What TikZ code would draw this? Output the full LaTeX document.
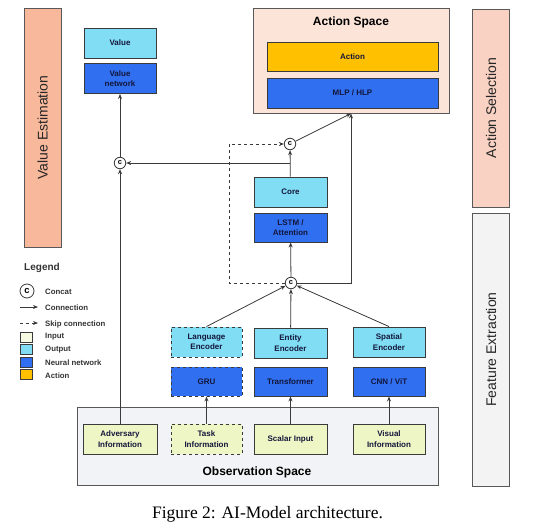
\documentclass[tikz,border=0pt]{standalone}
\usepackage{fontspec}
\setmainfont{Liberation Sans}
\newfontfamily\capfont{Liberation Serif}
\usepackage{tikz}
\usetikzlibrary{arrows.meta,positioning,calc}
\definecolor{amOutput}{HTML}{80DDF4}
\definecolor{amNet}{HTML}{2F6FF0}
\definecolor{amAction}{HTML}{FFC000}
\definecolor{amInput}{HTML}{EFF6C6}
\definecolor{amSalmon}{HTML}{F8B89C}
\definecolor{amBlush}{HTML}{F9D2C3}
\definecolor{amSpace}{HTML}{FCE4D8}
\definecolor{amGrey}{HTML}{F3F3F3}
\definecolor{amObs}{HTML}{F1F3F6}
\definecolor{amLine}{HTML}{3A3A3A}
\definecolor{amInk}{HTML}{14163A}
\tikzset{
  unit box/.style={draw=amLine,line width=0.9pt,minimum width=72pt,minimum height=30pt,
    inner sep=1pt,align=center,font=\fontsize{8}{10.5}\selectfont\bfseries,text=amInk},
  output box/.style={unit box,fill=amOutput},
  net box/.style={unit box,fill=amNet},
  input box/.style={unit box,fill=amInput},
  action box/.style={unit box,fill=amAction,minimum width=171pt,minimum height=29pt},
  panel/.style={draw=amLine!85,line width=0.9pt,inner sep=0pt},
  side bar/.style={panel,minimum height=37pt,rotate=90,font=\fontsize{14}{16}\selectfont,text=black!85},
  concat/.style={circle,draw=amLine,fill=white,line width=0.8pt,inner sep=0pt,minimum size=11.5pt,
    font=\fontsize{7.5}{7.5}\selectfont\bfseries},
  link/.style={-{Stealth[length=5pt,width=4pt]},line width=0.8pt,draw=amLine},
  skip link/.style={link,dashed},
  legend text/.style={anchor=west,font=\fontsize{7.8}{8}\selectfont\bfseries,text=black!80,inner sep=0pt},
  legend swatch/.style={draw=amLine,line width=0.8pt,minimum width=12pt,minimum height=10pt,inner sep=0pt}
}

\begin{document}
\begin{tikzpicture}[x=1pt,y=-1pt]
\useasboundingbox (0,0) rectangle (539,525);
% side bars
\node[side bar,fill=amSalmon,minimum width=239pt] (valbar) at (42.5,127.5) {Value Estimation};
\node[side bar,fill=amBlush,minimum width=198pt] (selbar) at (491,108) {Action Selection};
\node[side bar,fill=amGrey,minimum width=273pt] (featbar) at (491,349.5) {Feature Extraction};
% containers
\node[panel,fill=amSpace,minimum width=196pt,minimum height=105pt] (aspace) at (351,60.5) {};
\node[font=\fontsize{12}{14}\selectfont\bfseries] (aspacetitle) at (351,22) {Action Space};
\node[panel,fill=amObs,minimum width=361pt,minimum height=78pt] (obs) at (257.5,446) {};
\node[font=\fontsize{12}{14}\selectfont\bfseries] (obstitle) at (257,472) {Observation Space};
% value head
\node[output box] (value) at (120,43) {Value};
\node[net box] (valuenet) at (120,78.5) {Value\\network};
% action head
\node[action box] (action) at (352.5,56.5) {Action};
\node[action box,fill=amNet,minimum height=30pt] (mlp) at (352.5,93) {MLP / HLP};
% core
\node[output box,minimum width=73pt] (core) at (290.5,192) {Core};
\node[net box,minimum width=73pt,minimum height=29pt] (lstm) at (290.5,227.5) {LSTM /\\Attention};
% encoders
\node[output box,dashed,minimum width=71pt] (langenc) at (206.5,342) {Language\\Encoder};
\node[net box,dashed,minimum width=71pt,minimum height=29pt] (gru) at (206.5,381.5) {GRU};
\node[output box,minimum width=73pt] (entenc) at (290.5,343) {Entity\\Encoder};
\node[net box,minimum width=73pt,minimum height=29pt] (transformer) at (290.5,381.5) {Transformer};
\node[output box] (spatenc) at (389,342) {Spatial\\Encoder};
\node[net box,minimum height=29pt] (cnn) at (389,381.5) {CNN / ViT};
% inputs
\node[input box,minimum width=74pt] (adv) at (120,439) {Adversary\\Information};
\node[input box,dashed,minimum width=71pt] (task) at (206.5,439) {Task\\Information};
\node[input box,minimum width=73pt] (scalar) at (290.5,439) {Scalar Input};
\node[input box] (visual) at (389,439) {Visual\\Information};
% concats
\node[concat] (cleft) at (120,163) {c};
\node[concat] (ctop) at (290,144) {c};
\node[concat] (cbot) at (291,283) {c};
\coordinate (branch) at (290,163);
\coordinate (skipx) at (229,0);
% connections
\draw[link] (adv) -- (cleft);
\draw[link] (cleft) -- (valuenet);
\draw[link] (core) -- (ctop);
\draw[link] (branch) -- (cleft);
\draw[link] (ctop) -- (aspace.south);
\draw[link] (cbot) -- (lstm);
\draw[link] (cbot) -- (cbot -| aspace.south) -- (aspace.south);
\draw[skip link] (cbot) -- (cbot -| skipx) |- (ctop);
\draw[link] (langenc.north) -- (cbot);
\draw[link] (entenc) -- (cbot);
\draw[link] (spatenc.north) -- (cbot);
\draw[link] (task) -- (gru);
\draw[link] (scalar) -- (transformer);
\draw[link] (visual) -- (cnn);
% legend
\node[font=\fontsize{10}{12}\selectfont\bfseries,text=black!80] (legend) at (42,268) {Legend};
\node[concat,minimum size=14pt,font=\fontsize{9.5}{9.5}\selectfont\bfseries] (lgconcat) at (27,291) {c};
\node[legend text] (lgconcattext) at (45,292) {Concat};
\coordinate (lgconnA) at (20,307);
\coordinate (lgconnB) at (38,307);
\draw[link] (lgconnA) -- (lgconnB);
\node[legend text] (lgconntext) at (45,308) {Connection};
\coordinate (lgskipA) at (20,323);
\coordinate (lgskipB) at (38,323);
\draw[skip link] (lgskipA) -- (lgskipB);
\node[legend text] (lgskiptext) at (45,324) {Skip connection};
\node[legend swatch,fill=amInput!50] (lginput) at (26.5,337) {};
\node[legend text] (lginputtext) at (45,337) {Input};
\node[legend swatch,fill=amOutput] (lgoutput) at (26.5,349.5) {};
\node[legend text] (lgoutputtext) at (45,350) {Output};
\node[legend swatch,fill=amNet] (lgnet) at (26.5,362) {};
\node[legend text] (lgnettext) at (45,363) {Neural network};
\node[legend swatch,fill=amAction] (lgaction) at (26.5,374.5) {};
\node[legend text] (lgactiontext) at (45,376) {Action};
% caption
\node[font=\capfont\fontsize{17.5}{20}\selectfont] (caption) at (267.5,514) {Figure 2: AI-Model architecture.};
\end{tikzpicture}
\end{document}
